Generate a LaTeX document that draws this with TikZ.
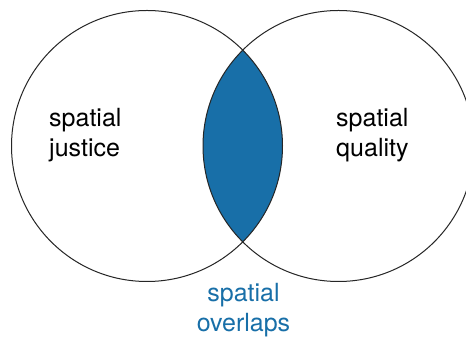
\documentclass[tikz,border=0pt]{standalone}
\usepackage{fontspec}
\setmainfont{TeX Gyre Heros}
\usepackage{xcolor}
\usepackage{tikz}
\usetikzlibrary{positioning, backgrounds}
\definecolor{overlapblue}{RGB}{24, 111, 168}
\tikzstyle{setname} = [font=\fontsize{25}{30}\selectfont, inner sep=0pt, align=left]
\tikzstyle{ring} = [line width=1pt, black!85]

\begin{document}
\begin{tikzpicture}[x=1pt, y=1pt]

\useasboundingbox (0, 0) rectangle (466, 339);

\begin{scope}
\clip (0, 0) rectangle (466, 339);
\begin{scope}
\clip (147, 193) circle (135.5);
\fill [overlapblue] (338.5, 193) circle (135.5);
\end{scope}
\draw [ring] (147, 193) circle (135.5);
\draw [ring] (338.5, 193) circle (135.5);
\end{scope}

% base anchor sits on the last line
\node [setname, anchor=base west] (justice) at (49, 182) {spatial\\justice};
\node [setname, anchor=base west] (quality) at (336, 182) {spatial\\quality};
\node [setname, align=center, text=overlapblue, anchor=base] (overlaps) at (243.5, 7) {spatial\\overlaps};

\begin{scope}[on background layer]
\fill [white] (0, 0) rectangle (466, 339);
\end{scope}

\end{tikzpicture}
\end{document}
